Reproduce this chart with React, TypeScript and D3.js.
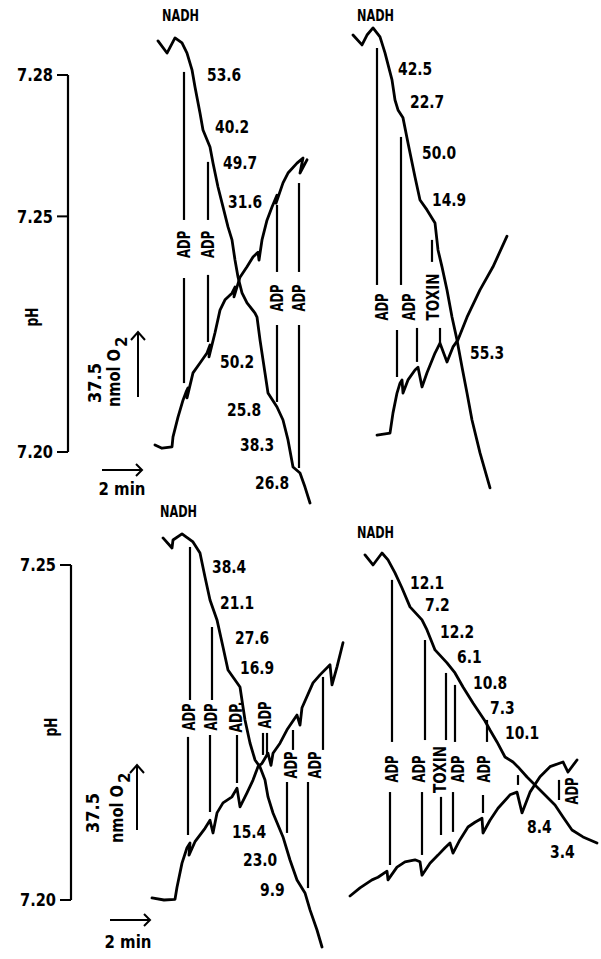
import React from 'react';
import * as d3 from 'd3';

type Pt = [number, number];
type Seg = [number, number, number];
type Tag = { text: string; t: number; v: number };

// ---------- traces: [time (min), O2 (nmol, arbitrary zero)] and [time, pH] ----------
const topLeftO2: Pt[] = [[0.40,276.4],[0.85,269.4],[1.25,278.1],[1.60,275.2],[1.85,269.4],[2.10,259.7],[2.25,249.8],[2.50,234.8],[2.65,225.0],[3.00,215.2],[3.15,206.0],[3.40,192.1],[3.65,180.6],[3.90,169.1],[4.10,161.6],[4.25,150.0],[4.40,140.2],[4.60,131.0],[4.85,125.2],[5.25,119.4],[5.35,117.1],[5.50,103.9],[5.75,84.8],[5.90,73.3],[6.35,65.2],[6.65,57.7],[6.90,46.2],[7.15,30.6],[7.50,27.1],[7.75,19.0],[8.00,9.8]];
const topLeftPH: Pt[] = [[0.25,7.2015],[0.6,7.2008],[1.10,7.2011],[1.15,7.2032],[1.40,7.2074],[1.65,7.2110],[1.80,7.2127],[1.90,7.2136],[1.85,7.2115],[2.15,7.2168],[2.50,7.2189],[2.85,7.2210],[3.00,7.2227],[2.95,7.2202],[3.25,7.2253],[3.50,7.2301],[3.75,7.2323],[4.10,7.2337],[4.25,7.2350],[4.20,7.2329],[4.50,7.2371],[4.85,7.2393],[5.15,7.2414],[5.40,7.2424],[5.45,7.2407],[5.60,7.2450],[5.85,7.2492],[6.10,7.2520],[6.35,7.2545],[6.30,7.2528],[6.65,7.2571],[6.90,7.2592],[7.35,7.2613],[7.65,7.2624],[7.50,7.2592],[7.85,7.2620]];
const topRightO2: Pt[] = [[0.15,279.8],[0.60,274.1],[0.85,279.8],[1.15,283.9],[1.50,278.7],[1.75,269.5],[2.10,253.9],[2.25,242.3],[2.40,236.6],[2.65,232.0],[2.90,217.5],[3.25,197.9],[3.50,184.6],[3.85,178.9],[4.25,171.4],[4.40,155.8],[4.60,146.0],[4.85,132.7],[5.10,117.1],[5.35,103.9],[5.60,88.3],[5.85,73.3],[6.10,57.7],[6.50,38.7],[7.00,18.5]];
const topRightPH: Pt[] = [[1.35,7.2036],[2.00,7.2040],[2.15,7.2083],[2.35,7.2125],[2.50,7.2146],[2.60,7.2153],[2.65,7.2125],[2.90,7.2153],[3.25,7.2174],[3.40,7.2180],[3.60,7.2138],[3.85,7.2168],[4.25,7.2210],[4.50,7.2231],[4.85,7.2191],[5.15,7.2223],[5.40,7.2238],[5.85,7.2286],[6.50,7.2344],[7.15,7.2393],[7.85,7.2458]];
const bottomLeftO2: Pt[] = [[0.65,243.5],[1.10,237.7],[1.15,242.3],[1.60,245.8],[2.15,241.2],[2.50,234.8],[2.75,221.0],[3.00,207.7],[3.35,196.2],[3.65,180.6],[3.90,167.3],[4.50,157.5],[4.65,146.0],[4.75,138.5],[5.00,125.2],[5.25,115.4],[5.50,111.4],[5.75,103.9],[5.90,94.1],[6.15,84.8],[6.65,71.0],[7.00,57.7],[7.35,46.2],[7.75,38.7],[8.00,28.9],[8.35,17.3],[8.60,7.5]];
const bottomLeftPH: Pt[] = [[0.10,7.2003],[0.7,7.2000],[1.25,7.2001],[1.35,7.2019],[1.60,7.2055],[1.85,7.2078],[2.00,7.2085],[1.95,7.2067],[2.25,7.2087],[2.75,7.2107],[3.00,7.2119],[3.15,7.2100],[3.35,7.2130],[3.65,7.2145],[4.10,7.2154],[4.35,7.2167],[4.50,7.2139],[4.85,7.2160],[5.15,7.2179],[5.40,7.2199],[5.60,7.2204],[5.90,7.2219],[6.05,7.2201],[6.15,7.2219],[6.50,7.2234],[6.85,7.2254],[7.35,7.2276],[7.50,7.2261],[7.60,7.2287],[8.15,7.2324],[8.50,7.2336],[9.00,7.2351],[9.10,7.2321],[9.35,7.2348],[9.65,7.2384]];
const bottomRightO2: Pt[] = [[0.75,233.7],[1.15,227.9],[1.60,234.8],[1.90,230.8],[2.25,223.3],[2.60,214.6],[3.00,203.7],[3.60,196.2],[3.85,190.4],[4.25,178.9],[4.85,171.4],[5.25,165.6],[5.65,157.5],[6.15,148.3],[6.75,137.9],[7.00,132.7],[7.35,125.8],[7.75,117.1],[8.15,114.2],[8.40,111.4],[8.85,105.6],[9.35,99.8],[9.85,94.1],[10.25,89.4],[10.65,82.5],[11.10,75.0],[11.65,71.0],[12.35,67.5]];
const bottomRightPH: Pt[] = [[0.00,7.2006],[0.50,7.2018],[1.10,7.2030],[1.40,7.2034],[1.85,7.2043],[1.90,7.2030],[2.35,7.2049],[2.75,7.2057],[3.25,7.2060],[3.50,7.2057],[3.60,7.2037],[4.00,7.2055],[4.40,7.2067],[4.75,7.2078],[5.00,7.2085],[5.15,7.2070],[5.50,7.2090],[5.90,7.2109],[6.25,7.2116],[6.60,7.2122],[6.65,7.2100],[7.00,7.2119],[7.40,7.2137],[8.00,7.2157],[8.35,7.2161],[8.60,7.2130],[9.00,7.2161],[9.50,7.2184],[10.00,7.2199],[10.65,7.2206],[10.90,7.2191],[11.35,7.2209]];

// ---------- addition markers: [time, O2 from, O2 to] ----------
const topLeftMarks: Seg[] = [[1.70,258.5,173.1],[1.70,139.6,79.0],[2.90,206.6,173.1],[2.90,141.4,102.7],[6.35,181.8,143.1],[6.35,112.5,68.1],[7.45,194.4,143.1],[7.45,112.5,30.0]];
const topRightMarks: Seg[] = [[1.35,272.3,135.6],[2.35,109.6,82.5],[2.55,221.0,135.6],[3.35,110.8,91.2],[4.10,161.6,148.9],[4.50,110.8,102.1]];
const bottomLeftMarks: Seg[] = [[2.0,238.3,150.0],[1.9,128.7,72.1],[3.1,192.1,150.0],[3.0,129.8,85.4],[4.35,129.8,102.1],[5.65,131.0,118.3],[5.85,131.0,118.3],[7.15,132.7,121.2],[6.85,102.7,73.3],[8.65,163.3,121.2],[7.9,102.7,41.5]];
const bottomRightMarks: Seg[] = [[2.1,219.3,125.8],[2.0,96.9,54.8],[3.75,184.6,126.9],[3.6,96.9,60.6],[4.8,165.6,126.9],[4.55,94.1,72.1],[5.25,158.7,125.8],[5.15,96.9,73.9],[6.85,138.5,125.8],[6.65,95.2,84.8],[8.4,106.7,101.0],[10.45,103.9,92.3]];

// ---------- addition labels ----------
const topLeftAdds: Tag[] = [{text:'ADP',t:1.70,v:159.0},{text:'ADP',t:2.90,v:159.0},{text:'ADP',t:6.35,v:128.1},{text:'ADP',t:7.45,v:128.1}];
const topRightAdds: Tag[] = [{text:'ADP',t:1.60,v:122.9},{text:'ADP',t:2.95,v:122.9},{text:'TOXIN',t:4.15,v:128.7}];
const bottomLeftAdds: Tag[] = [{text:'ADP',t:1.95,v:140.2},{text:'ADP',t:3.05,v:140.2},{text:'ADP.',t:4.3,v:140.2},{text:'ADP',t:5.75,v:141.4},{text:'ADP',t:7.05,v:112.5},{text:'ADP',t:8.25,v:112.5}];
const bottomRightAdds: Tag[] = [{text:'ADP',t:2.1,v:110.2},{text:'ADP',t:3.45,v:110.2},{text:'TOXIN',t:4.5,v:109.9},{text:'ADP',t:5.4,v:110.2},{text:'ADP',t:6.7,v:110.2},{text:'ADP',t:11.1,v:97.5}];

// ---------- respiration rates ----------
const topLeftRates: Tag[] = [{text:'53.6',t:2.85,v:256.8},{text:'40.2',t:3.25,v:226.8},{text:'49.7',t:3.65,v:206.0},{text:'31.6',t:3.90,v:183.5},{text:'50.2',t:3.50,v:91.2},{text:'25.8',t:3.85,v:63.5},{text:'38.3',t:4.50,v:43.3},{text:'26.8',t:5.25,v:21.3}];
const topRightRates: Tag[] = [{text:'42.5',t:2.4,v:260.2},{text:'22.7',t:3.0,v:241.2},{text:'50.0',t:3.6,v:211.8},{text:'14.9',t:4.1,v:184.6},{text:'55.3',t:6.0,v:96.4}];
const bottomLeftRates: Tag[] = [{text:'38.4',t:3.1,v:226.8},{text:'21.1',t:3.5,v:206.0},{text:'27.6',t:4.25,v:185.8},{text:'16.9',t:4.5,v:168.5},{text:'15.4',t:4.1,v:73.9},{text:'23.0',t:4.65,v:57.7},{text:'9.9',t:5.5,v:40.4}];
const bottomRightRates: Tag[] = [{text:'12.1',t:3.0,v:217.5},{text:'7.2',t:3.75,v:204.8},{text:'12.2',t:4.5,v:189.3},{text:'6.1',t:5.35,v:174.8},{text:'10.8',t:6.15,v:159.8},{text:'7.3',t:7.0,v:145.4},{text:'10.1',t:7.75,v:131.0},{text:'8.4',t:8.85,v:76.7},{text:'3.4',t:10.0,v:62.3}];

const nadhLabels: Tag[] = [{text:'NADH',t:0.6,v:290.8},{text:'NADH',t:0.35,v:290.8},{text:'NADH',t:0.5,v:258.5},{text:'NADH',t:0.35,v:246.4}];

const topTicks = [7.28, 7.25, 7.20];
const bottomTicks = [7.25, 7.20];

// ---------- layout ----------
const W = 601, H = 959;
const FONT = "'DejaVu Sans', 'Liberation Sans', sans-serif";

const rows = [
  { o2: d3.scaleLinear().domain([0, 37.5]).range([520, 455]), ph: d3.scaleLinear().domain([7.20, 7.28]).range([452, 75]), axisX: 68, ticks: topTicks, labelRight: 53, pHLabel: [32, 317], o2Arrow: [138, 397], o2Text: [95, 383, 114, 407], timeArrow: [102, 470], timeText: [122, 495] },
  { o2: d3.scaleLinear().domain([0, 37.5]).range([960, 895]), ph: d3.scaleLinear().domain([7.20, 7.25]).range([900, 565]), axisX: 71, ticks: bottomTicks, labelRight: 56, pHLabel: [51, 727], o2Arrow: [137, 830], o2Text: [93, 813, 117, 843], timeArrow: [110, 920], timeText: [128, 948] },
];

const panels = [
  { row: 0, x0: 150, o2: topLeftO2, ph: topLeftPH, marks: topLeftMarks, adds: topLeftAdds, rates: topLeftRates, nadh: nadhLabels[0] },
  { row: 0, x0: 350, o2: topRightO2, ph: topRightPH, marks: topRightMarks, adds: topRightAdds, rates: topRightRates, nadh: nadhLabels[1] },
  { row: 1, x0: 150, o2: bottomLeftO2, ph: bottomLeftPH, marks: bottomLeftMarks, adds: bottomLeftAdds, rates: bottomLeftRates, nadh: nadhLabels[2] },
  { row: 1, x0: 350, o2: bottomRightO2, ph: bottomRightPH, marks: bottomRightMarks, adds: bottomRightAdds, rates: bottomRightRates, nadh: nadhLabels[3] },
];

const txtLen = (s: string) => s.split('').reduce((a, c) => a + (c === '.' ? 6 : 10), 0);

function T({ text, x, y, len, rotate = false, anchor = 'start', size = 17 }: any) {
  return (
    <text
      transform={rotate ? `translate(${x},${y}) rotate(-90)` : `translate(${x},${y})`}
      textAnchor={anchor}
      dy="0.36em"
      fontSize={size}
      fontWeight="bold"
      fontFamily={FONT}
      textLength={len}
      lengthAdjust="spacingAndGlyphs"
      fill="#000"
    >
      {text}
    </text>
  );
}

export default function App() {
  return (
    <svg width={W} height={H} style={{ position: 'absolute', left: 0, top: 0, background: '#fff' }}>
      <rect width={W} height={H} fill="#fff" />
      {rows.map((r, i) => {
        const ptop = r.ph(d3.max(r.ticks) as number);
        const pbot = r.ph(d3.min(r.ticks) as number);
        const o2len = r.o2(0) - r.o2(37.5);
        const tlen = 40; // 2 min at 20 px/min
        const [ax, ay] = r.o2Arrow;
        const [tx, ty] = r.timeArrow;
        return (
          <g key={i}>
            <line x1={r.axisX} x2={r.axisX} y1={ptop} y2={pbot} stroke="#000" strokeWidth={2.2} />
            {r.ticks.map((tk) => (
              <g key={tk}>
                <line x1={r.axisX - 11} x2={r.axisX} y1={r.ph(tk)} y2={r.ph(tk)} stroke="#000" strokeWidth={2} />
                <T text={tk.toFixed(2)} x={r.labelRight} y={r.ph(tk)} anchor="end" len={36} />
              </g>
            ))}
            <T text="pH" x={r.pHLabel[0]} y={r.pHLabel[1]} rotate anchor="middle" len={19} />
            <line x1={ax} x2={ax} y1={ay} y2={ay - o2len} stroke="#000" strokeWidth={2} />
            <path d={`M${ax - 7},${ay - o2len + 8} L${ax},${ay - o2len} L${ax + 7},${ay - o2len + 8}`} fill="none" stroke="#000" strokeWidth={2} />
            <T text="37.5" x={r.o2Text[0]} y={r.o2Text[1]} rotate anchor="middle" len={40} />
            <g transform={`translate(${r.o2Text[2]},${r.o2Text[3]}) rotate(-90)`}>
              <text x={0} y={0} dy="0.36em" fontSize={17} fontWeight="bold" fontFamily={FONT} textLength={58} lengthAdjust="spacingAndGlyphs">nmol O</text>
              <text x={60} y={8} dy="0.36em" fontSize={15} fontWeight="bold" fontFamily={FONT}>2</text>
            </g>
            <line x1={tx} x2={tx + tlen} y1={ty} y2={ty} stroke="#000" strokeWidth={2} />
            <path d={`M${tx + tlen - 6},${ty - 6} L${tx + tlen},${ty} L${tx + tlen - 6},${ty + 6}`} fill="none" stroke="#000" strokeWidth={2} />
            <T text="2 min" x={r.timeText[0]} y={r.timeText[1] - 6} anchor="middle" len={47} />
          </g>
        );
      })}
      {panels.map((p, i) => {
        const r = rows[p.row];
        const x = d3.scaleLinear().domain([0, 10]).range([p.x0, p.x0 + 200]);
        const lineO2 = d3.line<Pt>().x((d) => x(d[0])).y((d) => r.o2(d[1]));
        const linePH = d3.line<Pt>().x((d) => x(d[0])).y((d) => r.ph(d[1]));
        return (
          <g key={i}>
            <path d={lineO2(p.o2) || ''} fill="none" stroke="#000" strokeWidth={2.8} strokeLinejoin="round" strokeLinecap="round" />
            <path d={linePH(p.ph) || ''} fill="none" stroke="#000" strokeWidth={2.8} strokeLinejoin="round" strokeLinecap="round" />
            {p.marks.map((m, j) => (
              <line key={j} x1={x(m[0])} x2={x(m[0])} y1={r.o2(m[1])} y2={r.o2(m[2])} stroke="#000" strokeWidth={2.2} />
            ))}
            {p.adds.map((a, j) => (
              <T key={j} text={a.text} x={x(a.t)} y={r.o2(a.v)} rotate anchor="middle" len={a.text === 'TOXIN' ? 47 : a.text === 'ADP.' ? 31 : 27} />
            ))}
            {p.rates.map((a, j) => (
              <T key={j} text={a.text} x={x(a.t)} y={r.o2(a.v)} len={txtLen(a.text) * 0.95} />
            ))}
            <T text={p.nadh.text} x={x(p.nadh.t)} y={r.o2(p.nadh.v)} len={37} size={15} />
          </g>
        );
      })}
    </svg>
  );
}
